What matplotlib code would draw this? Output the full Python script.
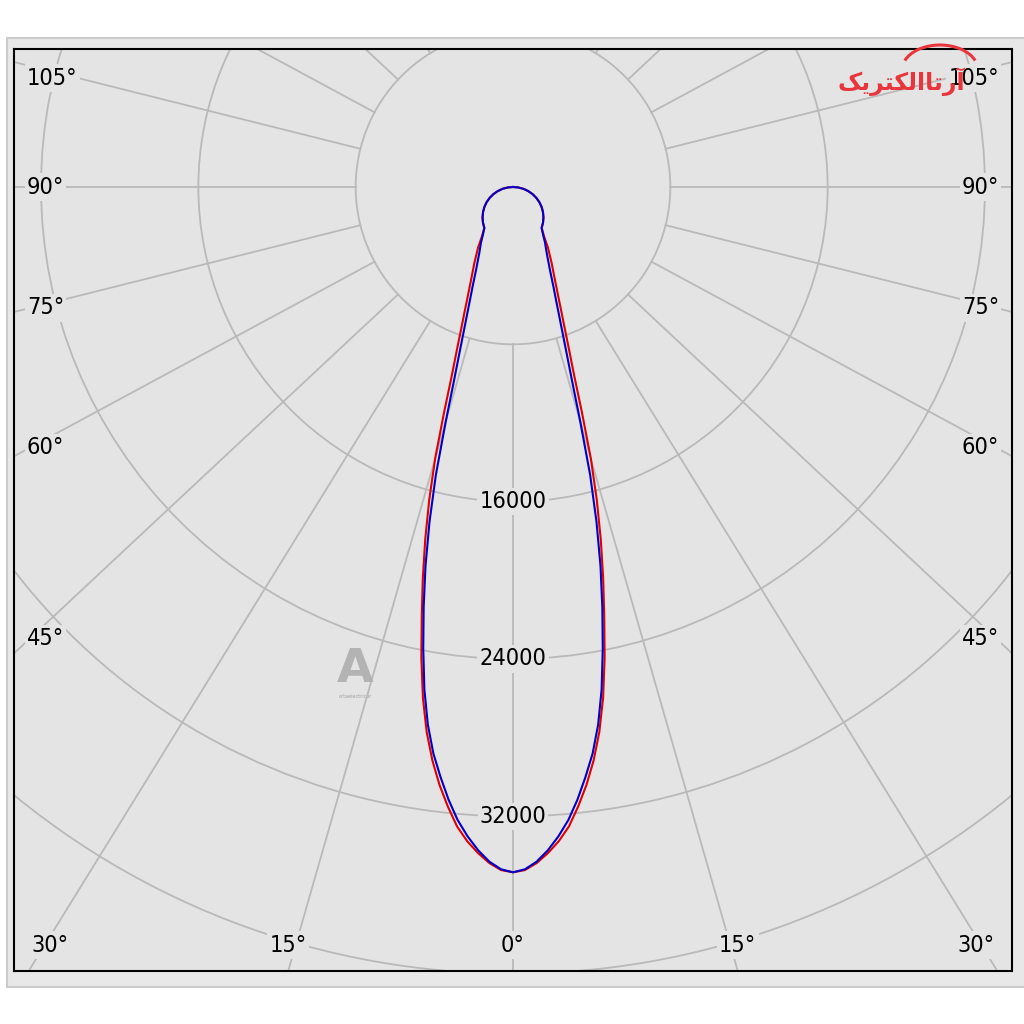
import numpy as np
import matplotlib.pyplot as plt
from matplotlib.patches import Circle, Rectangle, Arc

# luminous intensity (cd) vs angle from nadir (deg), mirrored on both halves
gamma = [0, 1, 2, 3, 4, 5, 6, 7, 8, 9, 10, 11, 12, 13, 14, 15, 16, 17, 18, 19, 20,
         21, 22, 24, 27, 30, 32, 35, 40, 45, 50, 55, 60, 65, 70, 75, 80, 85, 90]
blue_cd = [34848, 34700, 34330, 33780, 33100, 32310, 31330, 30230, 29090, 27680, 25950,
           23920, 21850, 19780, 17550, 15160, 12400, 10200, 8720, 7600, 6740,
           6050, 5510, 4620, 3780, 3250, 2900, 2540, 2375, 2190, 1990, 1780, 1550,
           1310, 1060, 800, 540, 270, 0]
red_cd = [34848, 34740, 34400, 33920, 33350, 32640, 31680, 30640, 29450, 28060, 26380,
          24420, 22320, 20380, 18440, 16450, 14360, 11990, 10050, 8770, 7740,
          6950, 6290, 5300, 4320, 3550, 3000, 2540, 2375, 2190, 1990, 1780, 1550,
          1310, 1060, 800, 540, 270, 0]

rings = [8000, 16000, 24000, 32000, 40000]
ring_labels = [16000, 24000, 32000]
spoke_angles = list(range(0, 360, 15))
bottom_labels = [0, 15, 30]
side_labels = [45, 60, 75, 90, 105]

BG = '#e4e4e4'
GRID = '#b9b9b9'
SKEW = 1.07      # spokes in the source come out a little wider than the true angle
px = 50.85       # candela per pixel of the original picture

xmin, xmax = -499 * px, 499 * px
ymin, ymax = -784 * px, 138 * px

plt.rcParams['font.family'] = ['DejaVu Sans']

fig = plt.figure(figsize=(10.24, 10.24), dpi=100, facecolor='white')
fig.patches.append(Rectangle((7 / 1024, 37 / 1024), 1.2, 949 / 1024, transform=fig.transFigure,
                             facecolor='#e8e8e8', edgecolor='#cbcbcb', lw=1.5, zorder=-5))
ax = fig.add_axes([14 / 1024, 53 / 1024, 998 / 1024, 922 / 1024], zorder=1)
ax.set_facecolor(BG)
ax.set_xlim(xmin, xmax)
ax.set_ylim(ymin, ymax)
ax.set_xticks([])
ax.set_yticks([])
for s in ax.spines.values():
    s.set_color('black')
    s.set_linewidth(1.5)

# grid
for r in rings:
    ax.add_patch(Circle((0, 0), r, fill=False, ec=GRID, lw=1.3, zorder=1))
for a in spoke_angles:
    th = np.radians(a)
    dx, dy = SKEW * np.sin(th), -np.cos(th)
    n = np.hypot(dx, dy)
    t0, t1 = rings[0] / n, 80000 / n
    ax.plot([t0 * dx, t1 * dx], [t0 * dy, t1 * dy], color=GRID, lw=1.3, zorder=1)

lab = dict(fontsize=16.8, fontstretch='condensed', color='black', zorder=3,
           bbox=dict(fc=BG, ec='none', pad=1.5))

for r in ring_labels:
    ax.text(0, -r, str(r), ha='center', va='center', **lab)

for a in side_labels:
    th = np.radians(a)
    t = (499 - 16) * px / (SKEW * np.sin(th))
    y = min(-np.cos(th) * t, ymax - 29 * px)
    ax.text(xmin + 13 * px, y, f'{a}°', ha='left', va='center', **lab)
    ax.text(xmax - 13 * px, y, f'{a}°', ha='right', va='center', **lab)

for a in bottom_labels:
    th = np.radians(a)
    x = min(SKEW * np.tan(th) * (-ymin), (499 - 36) * px)
    for sgn in ([1] if a == 0 else [-1, 1]):
        ax.text(sgn * x, ymin + 26 * px, f'{a}°', ha='center', va='center', **lab)

# curves (left half uses negative angles)
g = np.array(gamma, dtype=float)
theta = np.radians(np.concatenate([-g[::-1], g[1:]]))
for vals, col in [(red_cd, '#e00000'), (blue_cd, '#0000c8')]:
    v = np.array(vals, dtype=float)
    I = np.concatenate([v[::-1], v[1:]])
    ax.plot(I * np.sin(theta), -I * np.cos(theta), color=col, lw=1.5, zorder=2,
            solid_joinstyle='round')

# watermark
ax.text(-158 * px, -482 * px, 'A', ha='center', va='center', fontsize=34, fontweight='bold',
        color='#ababab', alpha=0.85, zorder=2)
ax.text(-158 * px, -510 * px, 'artaelectric.ir', ha='center', va='center', fontsize=3.5,
        color='#a0a0a0', zorder=2)

# logo (Persian text, pre-shaped in visual order)
logo = '\uFB8F\uFBFE\uFEAE\uFE98\uFB91\uFEDF\uFE8D\uFE8E\uFE97\uFEAD\uFE81'
fig.text(901 / 1024, 1 - 82 / 1024, logo, ha='center', va='center', fontsize=17,
         fontweight='bold', color='#e8363c', zorder=5)
fig.patches.append(Arc((940 / 1024, 1 - 70 / 1024), 76 / 1024, 50 / 1024, theta1=15, theta2=165,
                       transform=fig.transFigure, color='#e8363c', lw=2.2, zorder=5))

fig.savefig('out.png', dpi=100, facecolor='white')
